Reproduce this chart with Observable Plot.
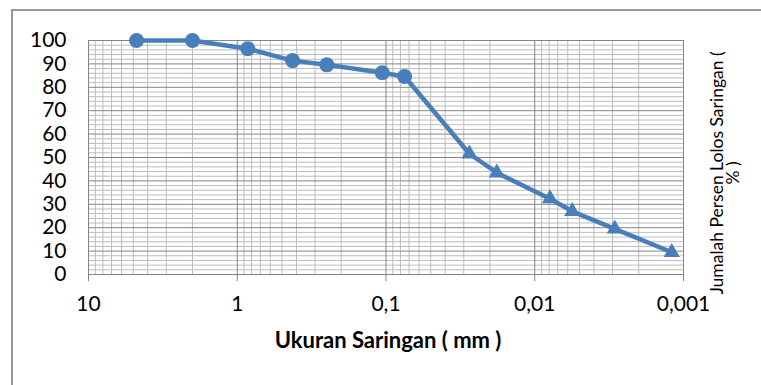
<!DOCTYPE html>
<html><head><meta charset="utf-8">
<script src="https://cdn.jsdelivr.net/npm/d3@7"></script>
<script src="https://cdn.jsdelivr.net/npm/@observablehq/plot@0.6"></script>
<style>
body{margin:0;background:#fff;}
#wrap{position:relative;width:761px;height:385px;overflow:hidden;background:#fff;}
#frame{position:absolute;left:11px;top:9px;width:800px;height:420px;border:2px solid #979797;box-sizing:border-box;}
#chart{position:absolute;left:0;top:0;}
</style></head><body>
<div id="wrap"><div id="frame"></div><div id="chart"></div></div>
<script>
// Grain size (mm) and percent passing
const sizes   = [4.75, 2.0, 0.85, 0.425, 0.25, 0.106, 0.075, 0.0275, 0.018, 0.0079, 0.0056, 0.0029, 0.0012];
const passing = [100, 100, 96.5, 91.4, 89.6, 86.2, 84.6, 51.6, 43.5, 32.4, 27.0, 19.5, 9.5];
const method  = ["sieve","sieve","sieve","sieve","sieve","sieve","sieve",
                 "hydro","hydro","hydro","hydro","hydro","hydro"];

const xTicks = [10, 1, 0.1, 0.01, 0.001];
const xTickLabels = ["10", "1", "0,1", "0,01", "0,001"];
const yTicks = [0, 10, 20, 30, 40, 50, 60, 70, 80, 90, 100];
const yMinor = [2,4,6,8,12,14,16,18,22,24,26,28,32,34,36,38,42,44,46,48,52,54,56,58,62,64,66,68,72,74,76,78,82,84,86,88,92,94,96,98];
const decades = [1, 0.1, 0.01, 0.001];
const mult = [2,3,4,5,6,7,8,9];
const xMinor = decades.flatMap(d => mult.map(m => +(m*d).toPrecision(3)));

const xTitle = "Ukuran Saringan ( mm )";
const yTitle1 = "Jumalah Persen Lolos Saringan (";
const yTitle2 = "% )";

const data = sizes.map((s, i) => ({size: s, pct: passing[i], method: method[i]}));
const fmt = new Map(xTicks.map((t, i) => [t, xTickLabels[i]]));

const blue = "#4a7ebb";
const font = "Lato, 'Open Sans', sans-serif";
const plot = Plot.plot({
  width: 761, height: 385,
  marginLeft: 88, marginRight: 78, marginTop: 40, marginBottom: 111,
  x: {type: "log", domain: [10, 0.001]},
  y: {domain: [0, 100]},
  style: {fontFamily: font, fontSize: "21px", color: "#000", background: "transparent", overflow: "visible"},
  marks: [
    Plot.ruleY(yMinor, {stroke: "#bcbcbc", strokeWidth: 1, strokeOpacity: 1}),
    Plot.ruleX(xMinor, {stroke: "#bcbcbc", strokeWidth: 1, strokeOpacity: 1}),
    Plot.ruleY(yTicks, {stroke: "#858585", strokeWidth: 1, strokeOpacity: 1}),
    Plot.ruleX(xTicks, {stroke: "#858585", strokeWidth: 1, strokeOpacity: 1}),
    Plot.axisX({ticks: xTicks, tickFormat: d => fmt.get(d) ?? "", tickSize: 7, tickPadding: 15,
                stroke: "#858585", strokeOpacity: 1, fill: "#000", label: null, fontSize: 21}),
    Plot.axisY({ticks: yTicks, tickSize: 0, tickPadding: 22, fill: "#000", label: null, fontSize: 21}),
    Plot.line(data, {x: "size", y: "pct", stroke: blue, strokeWidth: 4.5}),
    Plot.dot(data.filter(d => d.method === "sieve"), {x: "size", y: "pct", r: 7.5, fill: blue, symbol: "circle"}),
    Plot.dot(data.filter(d => d.method === "hydro"), {x: "size", y: "pct", r: 6, fill: blue, symbol: "triangle"})
  ]
});
document.getElementById("chart").appendChild(plot);

const svg = d3.select(plot);
svg.append("text")
  .attr("x", 388).attr("y", 348)
  .attr("text-anchor", "middle")
  .attr("font-family", font)
  .attr("font-weight", "bold").attr("font-size", 22).attr("fill", "#000")
  .text(xTitle);
const yt = svg.append("text")
  .attr("transform", "translate(723,173) rotate(-90)")
  .attr("text-anchor", "middle")
  .attr("font-family", font)
  .attr("font-size", 17.5).attr("fill", "#000");
yt.append("tspan").attr("x", 0).attr("y", 0).text(yTitle1);
yt.append("tspan").attr("x", 0).attr("y", 16).text(yTitle2);
</script>
</body></html>
